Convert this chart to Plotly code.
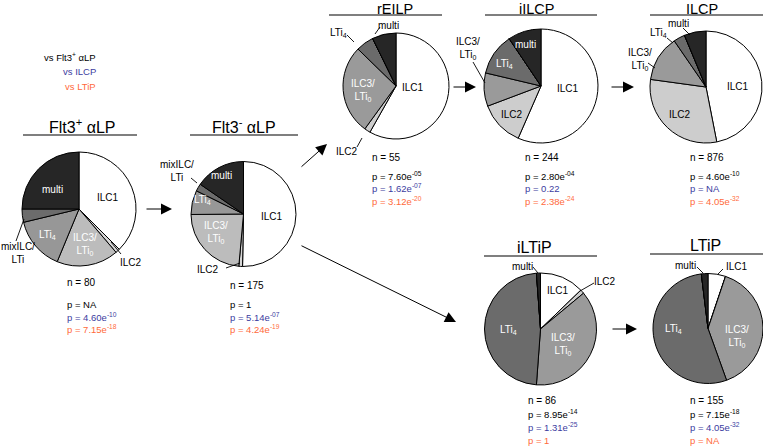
import plotly.graph_objects as go

# ---------------- data ----------------
categories = ["ILC1", "ILC2", "ILC3/LTi0", "LTi4", "mixILC/LTi", "multi"]
populations = ["Flt3+ αLP", "Flt3- αLP", "rEILP", "iILCP", "ILCP", "iLTiP", "LTiP"]
titles = ["Flt3<sup>+</sup> αLP", "Flt3<sup>-</sup> αLP", "rEILP", "iILCP", "ILCP", "iLTiP", "LTiP"]

counts_flt3p = [30, 1, 14, 12, 3, 20]
counts_flt3n = [88, 2, 41, 13, 4, 27]
counts_reilp = [32, 1, 15, 3, 0, 4]
counts_iilcp = [138, 31, 23, 29, 0, 23]
counts_ilcp = [411, 265, 116, 29, 0, 55]
counts_iltip = [11, 1, 32, 41, 0, 1]
counts_ltip = [8, 0, 61, 83, 0, 3]
all_counts = [counts_flt3p, counts_flt3n, counts_reilp, counts_iilcp,
              counts_ilcp, counts_iltip, counts_ltip]

p_vs_flt3 = ["NA", "1", "7.60e-05", "2.80e-04", "4.60e-10", "8.95e-14", "7.15e-18"]
p_vs_ilcp = ["4.60e-10", "5.14e-07", "1.62e-07", "0.22", "NA", "1.31e-25", "4.05e-32"]
p_vs_ltip = ["7.15e-18", "4.24e-19", "3.12e-20", "2.38e-24", "4.05e-32", "1", "NA"]

# ---------------- layout / style config ----------------
W, H = 763, 446
FONT = "Liberation Sans, Arial, sans-serif"
BLUE = "#3c3ca0"
ORANGE = "#ff6a3c"

colors_left = ["#ffffff", "#d6d6d6", "#bcbcbc", "#979797", "#6c6c6c", "#262626"]
colors_right = ["#ffffff", "#cdcdcd", "#9a9a9a", "#6b6b6b", "#6b6b6b", "#262626"]

# centre x, centre y, radius (pixels)
geom = [(79, 209, 57), (243.5, 214, 52.5), (396, 86, 53), (541, 86, 57),
        (706, 87, 56), (540.5, 329, 56), (708, 328.5, 55)]
# title centre x, title y, underline x0, x1, underline y, font size
title_pos = [(82, 126, 23, 137, 135, 16), (244, 126, 190, 298, 135, 16),
             (395, 9, 329, 442, 15, 14.5), (536, 9, 485, 597, 15, 14.5),
             (702, 9, 650, 763, 15, 14.5), (534, 247, 484, 597, 256, 16),
             (705, 245, 650, 763, 254, 16)]
# n text left x, n y, p line ys
stat_pos = [(66, 282, (304, 317, 329)), (229, 285, (304, 317, 329)),
            (371, 157, (176, 188, 201)), (524, 157, (176, 188, 201)),
            (689, 157, (176, 188, 201)), (527, 400, (414, 427, 440)),
            (689, 400, (414, 427, 440))]

ILC3 = "ILC3/<br>LTi<sub>0</sub>"
LTI4 = "LTi<sub>4</sub>"
MIX = "mixILC/<br>LTi"
W_, B_ = "white", "black"
# label text, x, y, colour, leader line (x0,y0,x1,y1) or None
labels = [
    [("multi", 52, 189, W_, None), ("ILC1", 108, 197, B_, None),
     (LTI4, 47, 235, W_, None), (ILC3, 85, 244, W_, None),
     (MIX, 18, 253, B_, (24, 219, 16, 241)), ("ILC2", 131, 262, B_, (111, 242, 121, 254))],
    [(MIX, 177, 171, B_, (191, 178, 197, 183)), ("multi", 221, 175, W_, None),
     (LTI4, 202, 200, W_, None), (ILC3, 216, 233, W_, None),
     ("ILC1", 272, 216, B_, None), ("ILC2", 208, 269, B_, (226, 268, 240, 263))],
    [("ILC1", 413, 87, B_, None), (ILC3, 363, 90, W_, None),
     (LTI4, 338, 33, B_, (347, 35, 354, 42)), ("multi", 389, 25, B_, (380, 27, 375, 34)),
     ("ILC2", 347, 151, B_, (357, 147, 362, 138))],
    [("multi", 525, 45, W_, None), (LTI4, 504, 64, W_, None),
     (ILC3, 468, 49, B_, (473, 62, 485, 83)), ("ILC2", 512, 115, B_, None),
     ("ILC1", 568, 88, B_, None)],
    [("multi", 678, 23, B_, (683, 28, 690, 35)), (LTI4, 658, 33, B_, (667, 38, 673, 43)),
     (ILC3, 640, 59, B_, (648, 63, 655, 68)), ("ILC2", 680, 115, B_, None),
     ("ILC1", 738, 86, B_, None)],
    [("multi", 522, 266, B_, (533, 267, 538, 273)), ("ILC1", 558, 290, B_, None),
     ("ILC2", 605, 281, B_, (580, 291, 594, 283)), (LTI4, 508, 330, W_, None),
     (ILC3, 563, 344, W_, None)],
    [("multi", 685, 265, B_, (697, 267, 703, 273)), ("ILC1", 737, 266, B_, (723, 269, 718, 274)),
     (LTI4, 673, 329, W_, None), (ILC3, 737, 336, W_, None)],
]
# arrows: tail (x,y) -> head (x,y)
arrows = [((145, 209), (172, 209)), ((300, 168), (327, 144)),
          ((300, 245), (456, 322)), ((452, 87), (476, 87)),
          ((610, 87), (634, 87)), ((611, 329), (637, 329))]


def X(px):
    return px / W


def Y(py):
    return 1 - py / H


def fmt_p(v):
    if "e" in v:
        m, e = v.split("e")
        return f"p = {m}e<sup>{e}</sup>"
    return f"p = {v}"


def text_ann(x, y, text, size, color, xanchor="center"):
    return dict(x=X(x), y=Y(y), xref="paper", yref="paper", text=text,
                xanchor=xanchor, yanchor="middle", showarrow=False, borderpad=0,
                font=dict(size=size, color=color, family=FONT))


fig = go.Figure()
annotations = []
shapes = []

for i, counts in enumerate(all_counts):
    cx, cy, r = geom[i]
    cols = colors_left if i < 2 else colors_right
    fig.add_trace(go.Pie(
        labels=categories, values=counts, sort=False, direction="clockwise",
        rotation=0, textinfo="none", hoverinfo="skip", showlegend=False,
        marker=dict(colors=cols, line=dict(color="black", width=1)),
        domain=dict(x=[X(cx - r), min(1, X(cx + r))], y=[Y(cy + r), Y(cy - r)]),
    ))
    tx, ty, ux0, ux1, uy, fs = title_pos[i]
    annotations.append(text_ann(tx, ty, titles[i], fs, "black"))
    shapes.append(dict(type="line", xref="paper", yref="paper", x0=X(ux0), x1=X(ux1),
                       y0=Y(uy), y1=Y(uy), line=dict(color="black", width=1.2)))
    nx, ny, pys = stat_pos[i]
    annotations.append(text_ann(nx, ny, f"n = {sum(counts)}", 10, "black", "left"))
    for pv, col, py in zip([p_vs_flt3[i], p_vs_ilcp[i], p_vs_ltip[i]],
                           ["black", BLUE, ORANGE], pys):
        annotations.append(text_ann(nx, py, fmt_p(pv), 9.5, col, "left"))
    for txt, lx, ly, col, lead in labels[i]:
        annotations.append(text_ann(lx, ly, txt, 10, col))
        if lead:
            shapes.append(dict(type="line", xref="paper", yref="paper",
                               x0=X(lead[0]), y0=Y(lead[1]), x1=X(lead[2]), y1=Y(lead[3]),
                               line=dict(color="black", width=0.9)))

for (t, h) in arrows:
    annotations.append(dict(x=X(h[0]), y=Y(h[1]), xref="paper", yref="paper",
                            ax=t[0] - h[0], ay=t[1] - h[1], axref="pixel", ayref="pixel",
                            text="", showarrow=True, arrowhead=2, arrowsize=2.2,
                            arrowwidth=1, arrowcolor="black"))

# legend text
for txt, col, ly in [("vs Flt3<sup>+</sup> αLP", "black", 57), ("vs ILCP", BLUE, 71),
                     ("vs LTiP", ORANGE, 86)]:
    annotations.append(text_ann(97, ly, txt, 9.5, col, "right"))

fig.update_layout(width=W, height=H, margin=dict(l=0, r=0, t=0, b=0),
                  paper_bgcolor="white", plot_bgcolor="white",
                  annotations=annotations, shapes=shapes, font=dict(family=FONT))
fig.write_html("out.html", config={"displayModeBar": False},
               post_script="document.body.style.margin='0';document.body.style.overflow='hidden';")
